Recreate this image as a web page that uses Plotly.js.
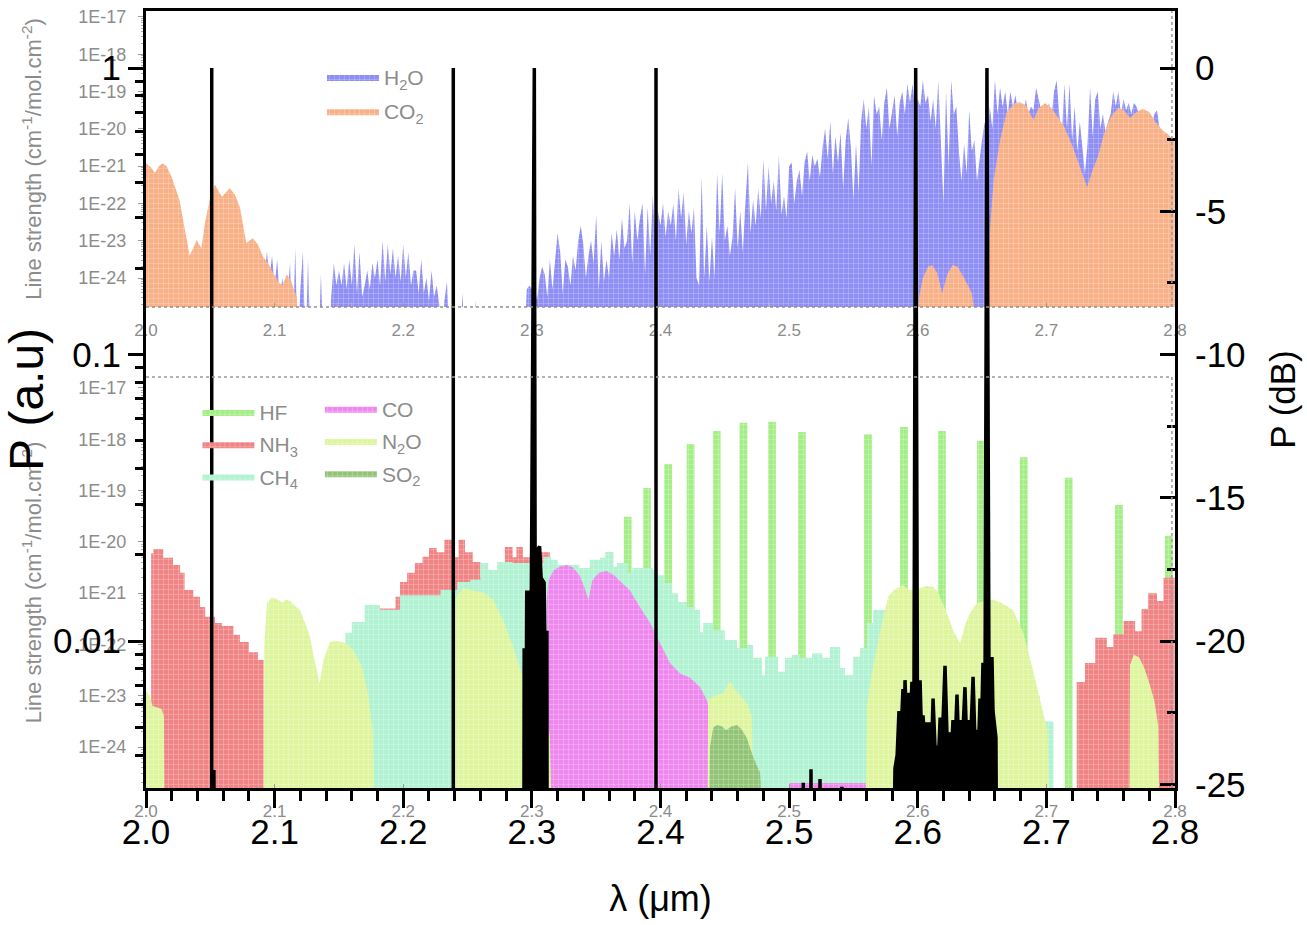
<!DOCTYPE html>
<html><head><meta charset="utf-8">
<script src="https://cdn.plot.ly/plotly-3.0.1.min.js"></script>
<style>html,body{margin:0;padding:0;background:#fff}#chart{width:1307px;height:925px}</style>
</head><body><div id="chart"></div>
<script>
// ---------- DATA (line strengths as log10 values, cm-1/mol.cm-2) ----------
const FLOOR = -26;            // "no absorption" level (below visible range)

// H2O: sampled every 0.002 um starting at 2.090 um
const h2oStart = 2.090, h2oStep = 0.002;
const h2oLog = [
 -26,-24.0,-23.3,-24.0,-23.4,-24.2,-23.5,-24.6,-24.0,-24.6,
 -24.5,-23.6,-26,-23.2,-26,-24.3,-23.3,-26,-23.5,-26,
 -26,-26,-26,-23.9,-26,-26,-26,-24.5,-23.6,-24.2,
 -23.8,-24.2,-23.6,-24.3,-23.5,-24.2,-23.1,-24.4,-23.3,-24.5,
 -24.2,-23.8,-24.3,-23.6,-24.0,-23.5,-24.2,-23.0,-24.1,-23.1,
 -23.9,-23.2,-24.0,-23.4,-24.1,-23.1,-24.0,-23.3,-24.2,-23.8,
 -23.8,-24.4,-23.5,-24.4,-24.0,-24.6,-23.8,-24.5,-24.2,-24.7,
 -26,-24.6,-24.1,-26,-26,-26,-26,-26,-24.4,-26,
 -26,-26,-26,-24.6,-26,-26,-26,-26,-26,-26,
 -26,-26,-26,-26,-26,-26,-26,-26,-26,-26,
 -26,-26,-26,-24.3,-24.2,-24.3,-24.2,-24.6,-24.0,-23.7,
 -23.9,-24.5,-23.5,-24.3,-23.6,-22.8,-23.3,-24.4,-23.5,-23.7,
 -24.2,-23.4,-23.8,-23.0,-22.6,-23.1,-24.0,-23.4,-23.0,-23.6,
 -22.3,-24.3,-23.0,-24.1,-23.5,-24.0,-22.8,-23.4,-22.7,-23.5,
 -22.4,-23.2,-23.0,-22.0,-23.6,-22.2,-23.0,-22.4,-22.0,-23.9,
 -22.1,-23.4,-21.8,-23.0,-22.2,-22.6,-22.0,-22.9,-22.2,-22.6,
 -22.0,-23.0,-21.6,-22.4,-21.7,-23.1,-22.2,-22.8,-22.1,-24.0,
 -24.2,-21.3,-24.0,-22.6,-24.1,-22.9,-24.0,-21.2,-22.8,-21.2,
 -23.0,-22.6,-23.4,-22.9,-21.6,-23.2,-22.2,-23.3,-22.0,-20.9,
 -22.8,-21.9,-22.6,-21.6,-22.4,-20.8,-22.2,-21.0,-22.0,-21.4,
 -22.2,-20.7,-22.3,-21.8,-22.4,-21.0,-20.9,-22.0,-21.4,-21.1,
 -21.8,-20.9,-20.6,-21.4,-20.7,-21.0,-20.8,-21.3,-20.5,-20.0,
 -20.8,-19.8,-21.2,-20.2,-20.9,-20.1,-21.6,-20.3,-19.7,-20.5,
 -21.9,-20.4,-21.7,-19.8,-19.2,-20.0,-19.4,-21.0,-19.1,-19.6,
 -19.4,-20.3,-19.3,-18.9,-20.0,-19.5,-19.1,-20.2,-19.3,-19.0,
 -19.6,-18.8,-19.3,-18.8,-19.5,-19.2,-19.4,-18.7,-19.3,-19.1,
 -19.8,-19.2,-20.0,-18.7,-20.4,-22.0,-19.0,-21.0,-18.7,-19.6,
 -19.4,-20.6,-21.4,-20.4,-21.2,-19.5,-20.6,-20.3,-21.4,-20.8,
 -20.3,-19.8,-20.6,-19.4,-20.0,-18.7,-19.6,-18.9,-19.4,-19.0,
 -19.6,-19.0,-19.4,-19.1,-19.6,-19.3,-19.7,-19.2,-19.6,-19.4,
 -19.5,-18.9,-19.2,-19.5,-19.4,-19.6,-19.3,-19.7,-19.0,-18.7,
 -19.6,-20.2,-18.8,-20.0,-18.8,-20.3,-19.4,-20.6,-19.8,-20.6,
 -21.2,-20.4,-18.9,-20.2,-19.2,-19.0,-20.0,-19.6,-20.1,-19.8,
 -19.6,-19.0,-19.4,-19.0,-19.6,-19.2,-19.5,-19.3,-19.6,-19.3,
 -19.4,-19.6,-19.5,-19.7,-19.6,-19.8,-19.9,-19.6,-19.5,-20.0,
 -21.0,-26,-26,-26,-26,-26
];

const co2X = [2.0,2.0,2.003,2.007,2.010,2.013,2.016,2.020,2.026,2.030,2.034,2.0395,2.043,2.046,2.050,2.0536,2.059,2.065,2.069,2.073,2.078,2.083,2.087,2.091,2.095,2.099,2.103,2.106,2.1096,2.113,2.117,2.121,
 2.146,2.1485,2.151,2.157,2.160,2.163,
 2.482,2.485,2.488,
 2.600,2.601,2.604,2.608,2.611,2.615,2.619,2.623,2.627,2.631,2.636,2.642,2.648,
 2.6546,2.656,2.659,2.664,2.669,2.675,2.679,2.684,2.688,2.690,2.694,2.699,2.704,2.709,2.714,2.720,2.725,2.7316,2.736,2.740,2.745,2.750,2.7558,2.760,2.765,2.770,2.775,2.780,2.785,2.790,2.795,2.798,2.7998,2.7998];
const co2Log = [-26,-20.92,-21.0,-21.18,-21.0,-20.92,-21.0,-21.3,-21.9,-22.6,-23.4,-22.98,-23.2,-22.5,-21.82,-21.5,-21.82,-21.59,-21.75,-22.1,-23.06,-22.93,-23.1,-23.43,-23.6,-23.87,-24.1,-24.2,-23.9,-24.1,-24.5,-26,
 -26,-24.6,-26,-26,-24.6,-26,
 -26,-24.6,-26,
 -26,-24.5,-24.0,-23.7,-23.65,-23.85,-24.4,-23.9,-23.65,-23.7,-24.0,-24.4,-26,
 -26,-22.79,-21.37,-20.3,-19.57,-19.33,-19.28,-19.36,-19.63,-19.76,-19.44,-19.31,-19.44,-19.71,-19.95,-20.43,-20.92,-21.56,-21.1,-20.75,-20.11,-19.68,-19.44,-19.49,-19.71,-19.55,-19.47,-19.55,-19.82,-20.03,-20.16,-20.3,-20.3,-26];

// HF: isolated lines (centre wavelength, strength)
const hfX   = [2.3604,2.3745,2.3895,2.406,2.4234,2.4437,2.4645,2.4867,2.5099,2.5613,2.5893,2.6188,2.6491,2.6824,2.7173,2.7564,2.7952];
const hfLog = [-20.2,-19.51,-18.95,-18.48,-18.09,-17.84,-17.68,-17.66,-17.86,-17.9,-17.76,-17.84,-18.03,-18.35,-18.75,-19.28,-19.88];

const nh3X = [2.004,2.004,2.0057,2.0134,2.021,2.0265,2.030,2.0368,2.042,2.046,2.0536,2.059,2.068,2.073,2.080,2.087,2.0915,
 2.180,2.194,2.1975,2.203,2.209,2.215,2.220,2.226,2.232,2.238,2.243,2.248,2.254,2.260,2.270,2.279,2.285,2.288,2.293,2.300,2.309,2.314,
 2.7236,2.730,2.738,2.747,2.752,2.760,2.769,2.774,2.779,2.786,2.791,2.7998,2.7998];
const nh3Log = [-26,-20.22,-20.14,-20.31,-20.45,-20.6,-20.94,-21.07,-21.27,-21.46,-21.58,-21.64,-21.81,-21.95,-22.15,-22.3,-26,
 -21.3,-21.07,-20.78,-20.6,-20.41,-20.29,-20.12,-20.2,-19.96,-20.3,-19.96,-20.2,-20.39,-20.7,-20.6,-20.1,-20.3,-20.1,-20.3,-20.2,-20.2,-26,
 -22.73,-22.36,-21.87,-22.05,-21.8,-21.54,-21.74,-21.31,-21.0,-21.15,-20.7,-20.7,-26];

const ch4X = [2.155,2.155,2.160,2.170,2.182,2.1975,2.229,2.242,2.252,2.260,2.266,2.273,2.285,2.299,2.309,2.315,2.320,2.337,2.345,2.353,2.357,2.363,2.366,2.3745,2.378,2.394,2.398,2.4035,2.409,2.4136,2.4206,2.427,2.4307,2.433,2.441,2.450,2.4595,2.4673,2.472,2.479,2.4813,2.4914,2.4968,2.5022,2.5085,2.5178,2.5256,2.5318,2.5396,2.5435,2.5497,2.5551,2.5605,2.5652,2.577,2.628,2.640,2.660,2.680,2.695,2.7055];
const ch4Log = [-26,-21.77,-21.56,-21.23,-21.33,-21.04,-20.94,-20.78,-20.74,-20.41,-20.55,-20.39,-20.41,-20.41,-20.29,-20.35,-20.45,-20.51,-20.35,-20.31,-20.2,-20.49,-20.41,-20.6,-20.51,-20.55,-20.65,-20.8,-21.0,-21.17,-21.27,-21.33,-21.76,-21.58,-21.72,-21.91,-22.07,-22.01,-22.26,-22.6,-22.24,-22.53,-22.26,-22.2,-22.26,-22.17,-22.26,-22.05,-22.46,-22.6,-22.24,-22.07,-21.58,-21.33,-21.75,-21.97,-22.3,-22.6,-23.0,-23.5,-26];

const coX = [2.3114,2.3115,2.313,2.317,2.322,2.327,2.332,2.337,2.341,2.344,2.347,2.352,2.358,2.364,2.370,2.376,2.384,2.392,2.3996,2.4074,2.415,2.423,2.4307,2.436,2.438,2.4385,
 2.500,2.5005,2.560,2.5605];
const coLog = [-26,-21.13,-20.75,-20.55,-20.48,-20.45,-20.5,-20.65,-20.9,-21.13,-20.75,-20.6,-20.57,-20.65,-20.8,-20.94,-21.27,-21.58,-21.97,-22.36,-22.56,-22.65,-22.83,-23.08,-23.3,-26,
 -26,-24.7,-24.7,-26];

const n2oX = [2.0,2.0,2.003,2.005,2.012,2.014,2.0145,
 2.0915,2.092,2.094,2.097,2.099,2.102,2.106,2.109,2.112,2.116,2.1197,2.124,2.1275,2.131,2.135,2.138,2.143,2.149,2.155,2.161,2.168,2.1726,2.1765,2.178,
 2.2405,2.2406,2.2466,2.2544,2.262,2.270,2.2776,2.2855,2.292,2.298,2.305,2.3115,2.314,2.316,
 2.4365,2.437,2.442,2.449,2.452,2.4545,2.457,2.462,2.467,2.471,2.473,
 2.559,2.5605,2.564,2.568,2.572,2.577,2.581,2.5885,2.594,2.5994,2.607,2.612,2.6157,2.6227,2.628,2.633,2.637,2.6406,2.646,2.652,2.659,2.6655,2.674,2.682,2.6896,2.697,2.701,2.703,
 2.7645,2.765,2.768,2.772,2.776,2.780,2.784,2.787,2.788];
const n2oLog = [-26,-22.9,-23.0,-23.2,-23.25,-23.4,-26,
 -26,-22.0,-21.2,-21.1,-21.09,-21.12,-21.18,-21.13,-21.15,-21.25,-21.33,-21.6,-21.85,-22.3,-22.75,-22.3,-21.95,-21.93,-21.97,-22.1,-22.44,-22.95,-23.73,-26,
 -26,-21.1,-20.9,-20.95,-20.98,-21.13,-21.52,-22.05,-22.56,-22.9,-23.1,-23.3,-23.8,-26,
 -26,-23.08,-23.0,-22.95,-22.8,-22.72,-22.85,-23.0,-23.14,-23.4,-26,
 -26,-23.2,-22.6,-22.1,-21.6,-21.07,-20.95,-20.84,-20.95,-20.92,-20.86,-20.88,-20.98,-21.39,-21.75,-21.97,-21.6,-21.39,-21.19,-21.15,-21.13,-21.19,-21.33,-21.77,-22.5,-23.28,-23.67,-26,
 -26,-22.4,-22.2,-22.25,-22.45,-22.75,-23.1,-23.6,-26];

const so2X = [2.4375,2.4385,2.441,2.444,2.448,2.451,2.455,2.4595,2.463,2.467,2.472,2.4774,2.481];
const so2Log = [-26,-24.0,-23.62,-23.57,-23.6,-23.67,-23.6,-23.57,-23.65,-23.82,-24.19,-24.5,-26];

// Transmitted power P (a.u.) of the laser lines
const pWl = [2.000,2.0511,2.0511,2.0511,2.0528,2.0530,
 2.2389,2.2389,2.2389,
 2.2938,2.2940,2.2958,2.2960,2.2985,2.2995,2.3019,2.3025,2.3035,2.3045,2.3060,2.3072,2.3095,2.3100,2.3117,2.3118,
 2.3965,2.3965,2.3965,
 2.5108,2.5110,2.5112,2.5168,2.5170,2.5172,2.5238,2.5240,2.5242,2.5408,2.5410,2.5412,
 2.5815,2.5823,2.5840,2.5854,2.5868,2.5885,2.5895,2.5901,2.5912,2.5924,2.5940,2.5955,2.5970,2.5984,2.5998,
 2.6018,2.6030,2.6041,2.6055,2.6072,2.6085,2.6096,2.6108,2.6119,2.6135,2.6150,2.6162,2.6174,2.6190,2.6212,
 2.6230,2.6251,2.6262,2.6274,2.6290,2.6305,2.6318,2.6329,2.6345,2.6367,2.6380,2.6391,2.6410,2.6430,2.6445,
 2.6460,2.6472,2.6484,2.6495,2.6507,2.6522,2.6538,2.6555,2.6577,2.6585,2.6600,2.6608,2.6612,2.800];
const pAu = [0.002,0.002,1.0,0.0035,0.0035,0.002,
 0.002,1.0,0.002,
 0.002,0.0093,0.0093,0.0148,0.0148,0.0125,1.0,0.0205,0.019,0.0209,0.0214,0.0166,0.0160,0.0107,0.0107,0.002,
 0.002,1.0,0.002,
 0.002,0.0032,0.002,0.002,0.00357,0.002,0.002,0.0033,0.002,0.002,0.0031,0.002,
 0.002,0.0036,0.0040,0.0057,0.0045,0.0068,0.0050,0.0073,0.0052,0.0066,0.0048,0.0072,0.0055,1.0,0.0050,
 0.0073,0.0046,0.0055,0.0044,0.0052,0.0045,0.0052,0.0043,0.0063,0.0042,0.0043,0.0040,0.0054,0.0044,0.0082,
 0.0043,0.0048,0.0041,0.0053,0.0043,0.0065,0.0044,0.0053,0.0042,0.0069,0.0045,0.0053,0.0044,0.0075,0.0045,
 0.0049,0.0042,0.0063,0.0048,0.0084,0.0050,1.0,0.0052,0.0088,0.0057,0.0050,0.0046,0.002,0.002];

const xTicks = [2.0,2.1,2.2,2.3,2.4,2.5,2.6,2.7,2.8];
const xTickText = ['2.0','2.1','2.2','2.3','2.4','2.5','2.6','2.7','2.8'];
const lsTicks = [1e-17,1e-18,1e-19,1e-20,1e-21,1e-22,1e-23,1e-24];
const lsTickText = ['1E-17','1E-18','1E-19','1E-20','1E-21','1E-22','1E-23','1E-24'];
const pTicks = [0.01,0.1,1];
const pTickText = ['0.01','0.1','1'];
const dbTicks = [-25,-20,-15,-10,-5,0];
const dbTickText = ['-25','-20','-15','-10','-5','0'];

// ---------- BUILD ----------
const pow10 = a => a.map(v => Math.pow(10, v));
const h2oX = h2oLog.map((_, i) => +(h2oStart + i * h2oStep).toFixed(4));
const pMinor = []; [0.001,0.01,0.1].forEach(d => { for (let k = 2; k <= 9; k++) pMinor.push(k * d); });
const lsMinor = []; for (let e = -25; e <= -18; e++) for (let k = 2; k <= 9; k++) lsMinor.push(k * Math.pow(10, e));

// HF lines drawn as narrow filled columns (half width is a style value)
const HF_HALF = 0.003;
const hfPolyX = [], hfPolyLog = [];
hfX.forEach((c, i) => {
  hfPolyX.push(c - HF_HALF, c - HF_HALF, c + HF_HALF, c + HF_HALF);
  hfPolyLog.push(FLOOR, hfLog[i], hfLog[i], FLOOR);
});

const GRAY = '#8c8c8c';
const FONT = 'Liberation Sans, Arial, sans-serif';
function pat(c) { return {shape: '+', bgcolor: c, fgcolor: '#ffffff', fgopacity: 0.6, size: 5, solidity: 0.14}; }
function area(name, x, logv, color, xa, ya, legend, group, shape) {
  return {type: 'scatter', mode: 'lines', name: name, x: x, y: pow10(logv), xaxis: xa, yaxis: ya,
    fill: 'toself', fillcolor: color, fillpattern: pat(color), line: {width: 0, color: color, shape: shape || 'linear'},
    legend: legend, legendgroup: group, hoverinfo: 'skip'};
}
const C = {h2o: '#8e8ef5', co2: '#f8b086', hf: '#a4ee86', nh3: '#f08484', ch4: '#b0f2d2', co: '#ee88ee', n2o: '#def59e', so2: '#92c477'};

const data = [
  area('H<sub>2</sub>O', h2oX, h2oLog, C.h2o, 'x', 'y', 'legend', 'a1'),
  area('CO<sub>2</sub>', co2X, co2Log, C.co2, 'x', 'y', 'legend', 'a2'),
  area('HF', hfPolyX, hfPolyLog, C.hf, 'x2', 'y2', 'legend2', 'b1'),
  area('NH<sub>3</sub>', nh3X, nh3Log, C.nh3, 'x2', 'y2', 'legend2', 'b2', 'hv'),
  area('CH<sub>4</sub>', ch4X, ch4Log, C.ch4, 'x2', 'y2', 'legend2', 'b3', 'hv'),
  area('CO', coX, coLog, C.co, 'x2', 'y2', 'legend3', 'c1'),
  area('N<sub>2</sub>O', n2oX, n2oLog, C.n2o, 'x2', 'y2', 'legend3', 'c2'),
  area('SO<sub>2</sub>', so2X, so2Log, C.so2, 'x2', 'y2', 'legend3', 'c3'),
  {type: 'scatter', mode: 'lines', x: pWl, y: pAu, xaxis: 'x3', yaxis: 'y3', fill: 'toself', fillcolor: '#000',
   line: {color: '#000', width: 3.5}, showlegend: false, hoverinfo: 'skip'},
  {type: 'scatter', mode: 'lines', x: [], y: [], xaxis: 'x3', yaxis: 'y4', showlegend: false, hoverinfo: 'skip'}
];

const insetX = a => ({anchor: a, domain: [0, 1], range: [2.0, 2.8], tickvals: xTicks, ticktext: xTickText,
  tickfont: {size: 17, color: GRAY, family: FONT}, ticks: 'inside', ticklen: 4, tickcolor: '#9a9a9a',
  showline: false, showgrid: false, zeroline: false, ticklabelstandoff: 11});
const insetY = (a, dom, rng) => ({anchor: a, domain: dom, type: 'log', range: rng, tickvals: lsTicks, ticktext: lsTickText,
  tickfont: {size: 18, color: GRAY, family: FONT}, ticks: 'outside', ticklen: 7, tickcolor: '#9a9a9a', tickwidth: 1,
  minor: {ticks: 'outside', ticklen: 4, tickcolor: '#b0b0b0', tickvals: lsMinor},
  showline: false, showgrid: false, zeroline: false, ticklabelstandoff: 8,
  title: {text: 'Line strength (cm<sup>-1</sup>/mol.cm<sup>-2</sup>)', font: {size: 22, color: GRAY, family: FONT}, standoff: 30}});

const legendBase = {xanchor: 'left', yanchor: 'top', bgcolor: 'rgba(0,0,0,0)', borderwidth: 0,
  font: {size: 21, color: GRAY, family: FONT}, tracegroupgap: 3, itemwidth: 52};

const layout = {
  width: 1307, height: 925, margin: {l: 146, r: 132, t: 11, b: 137},
  paper_bgcolor: '#fff', plot_bgcolor: 'rgba(0,0,0,0)', hovermode: false,
  font: {family: FONT, color: '#000'}, showlegend: true,
  xaxis: insetX('y'),
  xaxis2: insetX('y2'),
  xaxis3: {anchor: 'y3', domain: [0, 1], range: [2.0, 2.8], tickvals: xTicks, ticktext: xTickText,
    tickfont: {size: 35}, ticks: 'outside', ticklen: 17, tickwidth: 3, tickcolor: '#000',
    showline: true, linewidth: 3, linecolor: '#000', mirror: true,
    minor: {ticks: 'outside', ticklen: 10, tickwidth: 3, tickcolor: '#000', dtick: 0.02, tick0: 2.0},
    showgrid: false, zeroline: false, ticklabelstandoff: -6,
    title: {text: 'λ (μm)', font: {size: 36}, standoff: 36}},
  yaxis: insetY('x', [0.619, 1], [-24.777, -16.84]),
  yaxis2: insetY('x2', [0, 0.529], [-24.797, -16.786]),
  yaxis3: {anchor: 'x3', domain: [0, 1], type: 'log', range: [-2.513, 0.199], tickvals: pTicks, ticktext: pTickText,
    tickfont: {size: 35}, ticks: 'outside', ticklen: 15, tickwidth: 3, tickcolor: '#000',
    showline: true, linewidth: 3, linecolor: '#000',
    minor: {ticks: 'outside', ticklen: 8, tickwidth: 3, tickcolor: '#000', tickvals: pMinor},
    showgrid: false, zeroline: false, ticklabelstandoff: 0,
    title: {text: 'P (a.u)', font: {size: 48}, standoff: 0}},
  yaxis4: {overlaying: 'y3', side: 'right', anchor: 'x3', range: [-25.13, 1.99], tickvals: dbTicks, ticktext: dbTickText,
    tickfont: {size: 35}, ticks: 'inside', ticklen: 15, tickwidth: 3, tickcolor: '#000',
    showline: true, linewidth: 3, linecolor: '#000',
    minor: {ticks: 'inside', ticklen: 8, tickwidth: 3, tickcolor: '#000', dtick: 2.5, tick0: 0},
    showgrid: false, zeroline: false, ticklabelstandoff: 10,
    title: {text: 'P (dB)', font: {size: 35}, standoff: 26}},
  legend: Object.assign({}, legendBase, {x: 0.171, y: 0.941, tracegroupgap: 4}),
  legend2: Object.assign({}, legendBase, {x: 0.050, y: 0.510, tracegroupgap: 2}),
  legend3: Object.assign({}, legendBase, {x: 0.169, y: 0.514, tracegroupgap: 2}),
  shapes: [
    {type: 'line', xref: 'x domain', yref: 'y domain', x0: 0, x1: 0.997, y0: 0, y1: 0, line: {color: '#9a8f86', width: 1.5, dash: 'dot'}},
    {type: 'line', xref: 'x domain', yref: 'y domain', x0: 0.997, x1: 0.997, y0: 0, y1: 1, line: {color: '#9a9a9a', width: 1.5, dash: 'dot'}},
    {type: 'line', xref: 'x2 domain', yref: 'y2 domain', x0: 0, x1: 0.997, y0: 1, y1: 1, line: {color: '#9a9a9a', width: 1.5, dash: 'dot'}},
    {type: 'line', xref: 'x2 domain', yref: 'y2 domain', x0: 0.997, x1: 0.997, y0: 0, y1: 1, line: {color: '#9a9a9a', width: 1.5, dash: 'dot'}}
  ]
};

Plotly.newPlot('chart', data, layout, {displayModeBar: false, staticPlot: true});
</script></body></html>
